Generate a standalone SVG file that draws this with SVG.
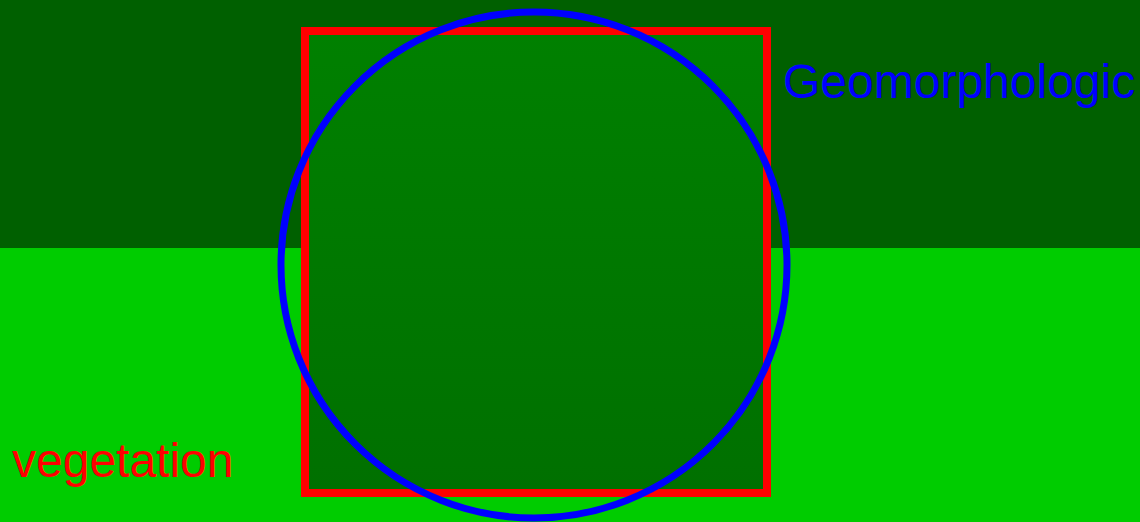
<svg xmlns="http://www.w3.org/2000/svg" width="1140" height="522" viewBox="0 0 1140 522">
<defs>
<linearGradient id="inner" x1="0" y1="0" x2="0" y2="1">
<stop offset="0" stop-color="#008000"/>
<stop offset="1" stop-color="#007000"/>
</linearGradient>
</defs>
<style>
.lbl{font-family:"Liberation Sans",Arial,sans-serif;font-size:48px}
</style>
<g id="background">
<rect x="0" y="0" width="1140" height="522" fill="#00cc00"/>
<rect x="0" y="0" width="1140" height="248" fill="#006000"/>
</g>
<g id="vegetation-box">
<rect x="305" y="31" width="462" height="462" fill="url(#inner)" stroke="#ff0000" stroke-width="8"/>
</g>
<g id="geomorphologic-circle">
<circle cx="534" cy="265" r="253" fill="none" stroke="#0000ff" stroke-width="7"/>
</g>
<g id="labels">
<text class="lbl" x="783" y="98" fill="#0000ff">Geomorphologic</text>
<text class="lbl" x="12" y="477" fill="#ff0000">vegetation</text>
</g>
</svg>
